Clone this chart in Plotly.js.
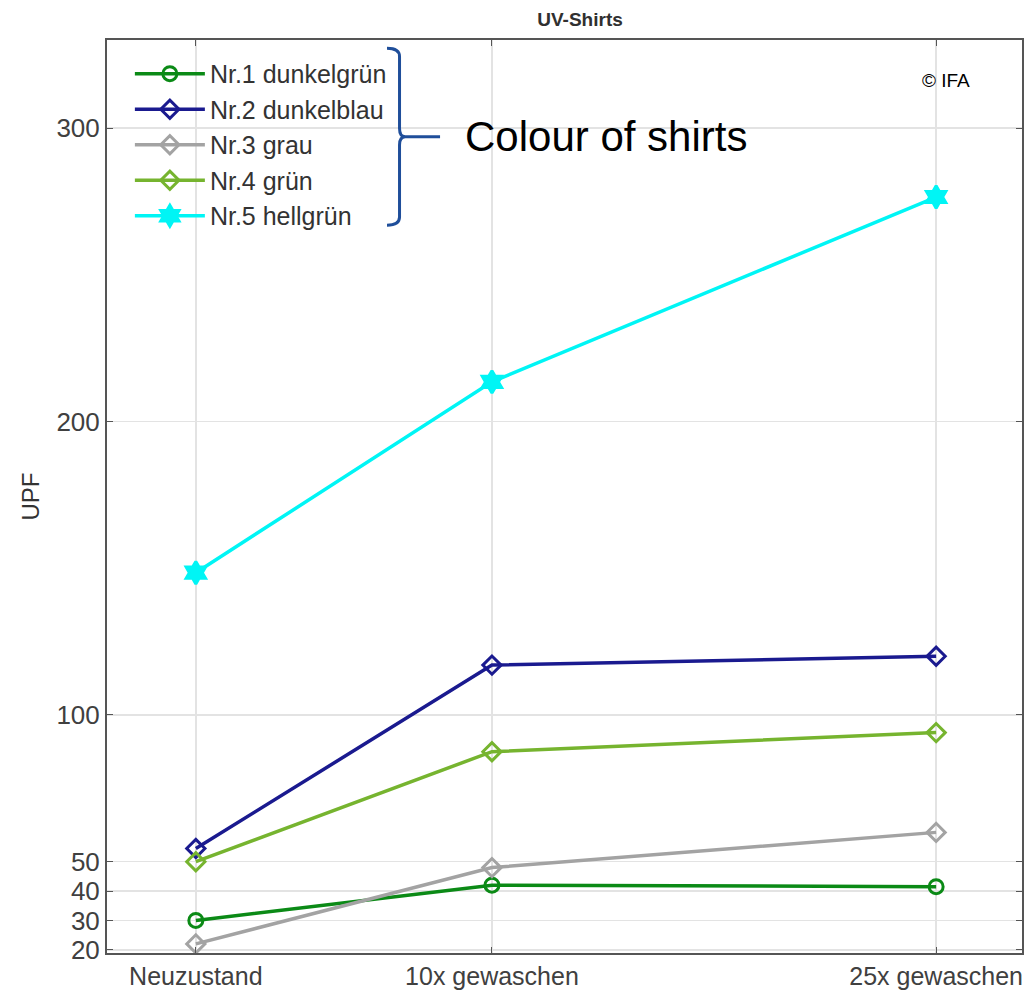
<!DOCTYPE html>
<html>
<head>
<meta charset="utf-8">
<script src="https://cdn.plot.ly/plotly-3.0.1.min.js"></script>
<style>html,body{margin:0;padding:0;background:#fff;}#chart{width:1031px;height:997px;}</style>
</head>
<body>
<div id="chart"></div>
<script>
// Data
const washes = [0, 10, 25];
const tickLabels = ["Neuzustand", "10x gewaschen", "25x gewaschen"];
const seriesNames = ["Nr.1 dunkelgrün", "Nr.2 dunkelblau", "Nr.3 grau", "Nr.4 grün", "Nr.5 hellgrün"];
const nr1 = [30, 42, 41.5];
const nr2 = [54.5, 117, 120];
const nr3 = [22, 48, 60];
const nr4 = [50, 87.5, 94];
const nr5 = [148.5, 213.5, 276.5];
const yTicks = [20, 30, 40, 50, 100, 200, 300];

const colors = ["#0b8a16", "#1a1a8f", "#a3a3a3", "#76b42f", "#00f5f5"];
const symbols = ["circle-open", "diamond-open", "diamond-open", "diamond-open", "hexagram"];
const values = [nr1, nr2, nr3, nr4, nr5];

const traces = values.map((v, i) => ({
  x: washes, y: v, name: seriesNames[i], type: "scatter", mode: "lines+markers",
  line: {color: colors[i], width: 3.5},
  marker: {symbol: symbols[i], size: i === 4 ? 17 : 14, color: colors[i], line: {color: colors[i], width: 3}}
}));

const FONT = "Liberation Sans, Arial, sans-serif";
const layout = {
  width: 1031, height: 997,
  margin: {l: 107, r: 9, t: 40, b: 44},
  paper_bgcolor: "#fff", plot_bgcolor: "#fff",
  font: {family: FONT, color: "#404040", size: 25},
  title: {text: "<b>UV-Shirts</b>", x: 0.5626, xanchor: "center", y: 0.981, yanchor: "middle", font: {size: 19, color: "#303030"}},
  showlegend: true,
  legend: {x: 0.025, y: 0.988, xanchor: "left", yanchor: "top", bgcolor: "rgba(255,255,255,0)", borderwidth: 0,
           font: {size: 25, color: "#333"}, tracegroupgap: 0, itemwidth: 70},
  xaxis: {
    range: [-3, 27.9], tickvals: washes, ticktext: tickLabels,
    showgrid: true, gridcolor: "#e3e3e3", gridwidth: 1.5, zeroline: false,
    showline: true, linecolor: "#555", linewidth: 2, mirror: "ticks",
    ticks: "inside", ticklen: 6, tickcolor: "#555", tickfont: {size: 25, color: "#404040"}
  },
  yaxis: {
    range: [18.9, 330], tickvals: yTicks, ticktext: yTicks.map(String),
    showgrid: true, gridcolor: "#e3e3e3", gridwidth: 1.5, zeroline: false,
    showline: true, linecolor: "#555", linewidth: 2, mirror: "ticks",
    ticks: "inside", ticklen: 6, tickcolor: "#555", tickfont: {size: 26, color: "#404040"},
    title: {text: "UPF", font: {size: 24, color: "#333"}, standoff: 10}
  },
  shapes: [{
    type: "path", xref: "paper", yref: "paper",
    path: "M 0.306 0.991 Q 0.3197 0.991 0.3197 0.982 L 0.3197 0.903 Q 0.3197 0.894 0.326 0.894 L 0.364 0.894 M 0.326 0.894 Q 0.3197 0.894 0.3197 0.885 L 0.3197 0.806 Q 0.3197 0.797 0.306 0.797",
    line: {color: "#1f4e9a", width: 3}
  }],
  annotations: [
    {text: "Colour of shirts", xref: "paper", yref: "paper", x: 0.389, y: 0.894, xanchor: "left", yanchor: "middle",
     showarrow: false, font: {size: 42, color: "#000", family: FONT}},
    {text: "© IFA", xref: "paper", yref: "paper", x: 0.917, y: 0.956, xanchor: "center", yanchor: "middle",
     showarrow: false, font: {size: 19, color: "#000", family: FONT}}
  ]
};

Plotly.newPlot("chart", traces, layout, {displayModeBar: false, staticPlot: true});
</script>
</body>
</html>
